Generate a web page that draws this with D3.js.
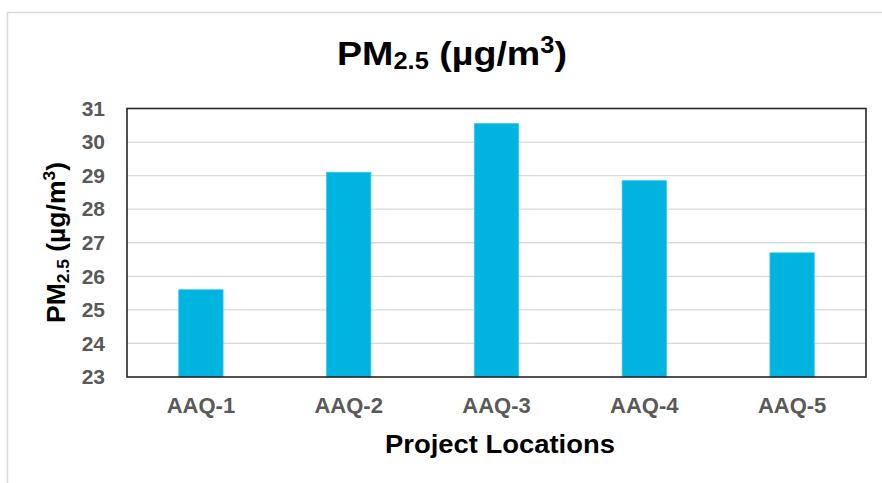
<!DOCTYPE html>
<html>
<head>
<meta charset="utf-8">
<script src="https://cdn.jsdelivr.net/npm/d3@7"></script>
<style>
  html, body { margin: 0; padding: 0; background: #fff; }
  svg { display: block; font-family: "Liberation Sans", Arial, sans-serif; }
</style>
</head>
<body>
<svg id="chart" width="882" height="483"></svg>
<script>
// PM2.5 concentration at each monitoring location (µg/m³)
const locations = ["AAQ-1", "AAQ-2", "AAQ-3", "AAQ-4", "AAQ-5"];
const pm25 = [25.6, 29.1, 30.55, 28.85, 26.7];
const yTicks = [23, 24, 25, 26, 27, 28, 29, 30, 31];

const svg = d3.select("#chart");
const plot = { left: 127, right: 866, top: 108.5, bottom: 377 };

const x = d3.scaleBand()
  .domain(locations)
  .range([plot.left, plot.right])
  .paddingInner(0.7)
  .paddingOuter(0.35);

const y = d3.scaleLinear()
  .domain([23, 31])
  .range([plot.bottom, plot.top]);

// stretch a text node horizontally (in its own frame) to a given width around cx
function fitWidth(node, width, cx, pre) {
  const b = node.getBBox();
  const s = width / b.width;
  node.setAttribute("transform",
    `${pre || ""} translate(${cx},0) scale(${s},1) translate(${-cx},0)`);
}

// outer chart frame
svg.append("rect")
  .attr("x", 7.5).attr("y", 12.5)
  .attr("width", 900).attr("height", 500)
  .attr("fill", "none")
  .attr("stroke", "#d9d9d9")
  .attr("stroke-width", 1.5);

// horizontal gridlines
svg.append("g")
  .selectAll("line")
  .data(yTicks.filter(t => t > 23 && t < 31))
  .join("line")
  .attr("x1", plot.left).attr("x2", plot.right)
  .attr("y1", d => y(d)).attr("y2", d => y(d))
  .attr("stroke", "#d9d9d9")
  .attr("stroke-width", 1.3);

// bars
svg.append("g")
  .selectAll("rect")
  .data(locations.map((loc, i) => ({ loc, v: pm25[i] })))
  .join("rect")
  .attr("x", d => x(d.loc))
  .attr("width", x.bandwidth())
  .attr("y", d => y(d.v))
  .attr("height", d => y(23) - y(d.v))
  .attr("fill", "#00B4E0")
  .attr("stroke", "#3cc6ec")
  .attr("stroke-width", 0.8);

// plot border
svg.append("rect")
  .attr("x", plot.left).attr("y", plot.top)
  .attr("width", plot.right - plot.left)
  .attr("height", plot.bottom - plot.top)
  .attr("fill", "none")
  .attr("stroke", "#262626")
  .attr("stroke-width", 1.6);

// y axis labels
const yAxis = svg.append("g")
  .attr("transform", `translate(${plot.left},0)`)
  .call(d3.axisLeft(y).tickValues(yTicks).tickSize(0).tickPadding(22).tickFormat(d3.format("d")));
yAxis.select(".domain").remove();
yAxis.selectAll("text")
  .attr("font-family", "'Liberation Sans', Arial, sans-serif")
  .attr("font-size", 21)
  .attr("font-weight", "bold")
  .attr("fill", "#595959");

// x axis labels
const xAxis = svg.append("g")
  .attr("transform", `translate(0,${plot.bottom})`)
  .call(d3.axisBottom(x).tickSize(0).tickPadding(20));
xAxis.select(".domain").remove();
xAxis.selectAll("text")
  .attr("font-family", "'Liberation Sans', Arial, sans-serif")
  .attr("font-size", 22)
  .attr("font-weight", "bold")
  .attr("fill", "#595959");

// chart title: PM2.5 (µg/m3)
const title = svg.append("text")
  .attr("x", 452).attr("y", 65)
  .attr("text-anchor", "middle")
  .attr("font-size", 34)
  .attr("font-weight", "bold")
  .attr("fill", "#000");
title.append("tspan").text("PM");
title.append("tspan").attr("font-size", 23).attr("dy", 4).text("2.5");
title.append("tspan").attr("dy", -4).text(" (µg/m");
title.append("tspan").attr("font-size", 23).attr("dy", -12).text("3");
title.append("tspan").attr("dy", 12).text(")");
fitWidth(title.node(), 230, 452);

// x axis title
const xTitle = svg.append("text")
  .attr("x", 500).attr("y", 453)
  .attr("text-anchor", "middle")
  .attr("font-size", 25)
  .attr("font-weight", "bold")
  .attr("fill", "#000")
  .text("Project Locations");
fitWidth(xTitle.node(), 230, 500);

// y axis title: PM2.5 (µg/m3), rotated
const yTitle = svg.append("text")
  .attr("x", -242.5).attr("y", 65)
  .attr("text-anchor", "middle")
  .attr("font-size", 26)
  .attr("font-weight", "bold")
  .attr("fill", "#000");
yTitle.append("tspan").text("PM");
yTitle.append("tspan").attr("font-size", 17).attr("dy", 4).text("2.5");
yTitle.append("tspan").attr("dy", -4).text(" (µg/m");
yTitle.append("tspan").attr("font-size", 17).attr("dy", -10).text("3");
yTitle.append("tspan").attr("dy", 10).text(")");
fitWidth(yTitle.node(), 161, -242.5, "rotate(-90)");
</script>
</body>
</html>
